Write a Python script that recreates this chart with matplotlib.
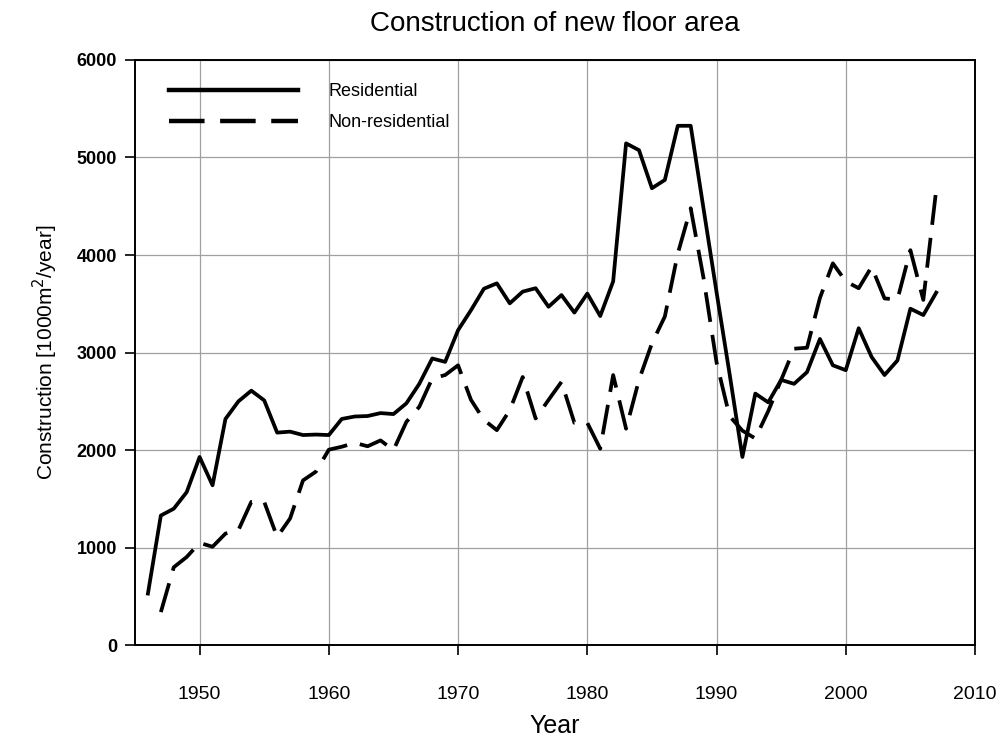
import matplotlib
matplotlib.use("Agg")
import matplotlib.pyplot as plt

# years and values (1000 m2 / year)
years_res = list(range(1946, 2008))
residential = [530, 1330, 1400, 1570, 1930, 1640, 2320, 2500, 2610, 2510,
               2180, 2190, 2155, 2160, 2155, 2320, 2345, 2350, 2380, 2370,
               2480, 2680, 2940, 2905, 3230, 3435, 3655, 3710, 3505, 3625,
               3660, 3470, 3590, 3410, 3605, 3375, 3730, 5145, 5075, 4685,
               4770, 5325, 5325, 4470, 3620, 2790, 1930, 2580, 2490, 2720,
               2680, 2800, 3140, 2870, 2820, 3250, 2955, 2770, 2920, 3450,
               3385, 3615]

years_non = list(range(1947, 2008))
non_residential = [340, 800, 905, 1050, 1010, 1145, 1180, 1470, 1470, 1110,
                   1300, 1690, 1780, 2005, 2035, 2075, 2040, 2100, 2000, 2290,
                   2445, 2735, 2770, 2870, 2515, 2310, 2205, 2410, 2750, 2325,
                   2515, 2700, 2280, 2280, 2015, 2770, 2220, 2720, 3095, 3370,
                   4015, 4480, 3760, 2900, 2350, 2200, 2120, 2400, 2720, 3040,
                   3050, 3560, 3915, 3730, 3660, 3880, 3555, 3545, 4050, 3540,
                   4670]

xticks = [1950, 1960, 1970, 1980, 1990, 2000, 2010]
yticks = [0, 1000, 2000, 3000, 4000, 5000, 6000]

font = ["Liberation Sans", "DejaVu Sans"]

fig = plt.figure(figsize=(10, 7.4), dpi=100)
ax = fig.add_axes([0.135, 0.128, 0.84, 0.791])

ax.plot(years_res, residential, color="black", lw=2.7, label="Residential")
ax.plot(years_non, non_residential, color="black", lw=2.7, dashes=(8, 3.5),
        label="Non-residential")

ax.set_xlim(1945, 2010)
ax.set_ylim(0, 6000)
ax.set_xticks(xticks)
ax.set_yticks(yticks)
ax.grid(True, color="#a0a0a0", lw=0.9)
ax.set_axisbelow(True)
for s in ax.spines.values():
    s.set_linewidth(1.4)
ax.tick_params(direction="out", length=7, width=1.2)
ax.tick_params(axis="x", pad=22)
ax.tick_params(axis="y", pad=6)

for lab in ax.get_xticklabels():
    lab.set_fontfamily(font)
    lab.set_fontsize(14)
for lab in ax.get_yticklabels():
    lab.set_fontfamily(font)
    lab.set_fontweight("bold")
    lab.set_fontsize(13)

ax.set_xlabel("Year", family=font, fontsize=18, labelpad=8)
ax.set_ylabel("Construction [1000m$^2$/year]", family=font, fontsize=15,
              labelpad=12)
fig.text(0.555, 0.968, "Construction of new floor area", family=font,
         fontsize=20, ha="center", va="center")

leg = ax.legend(loc="upper left", bbox_to_anchor=(0.013, 1.0), frameon=False,
                handlelength=7.1, handletextpad=1.7, borderaxespad=0.9,
                labelspacing=0.75, prop={"family": font, "size": 13})
for h in leg.get_lines():
    h.set_linewidth(3.2)

fig.savefig("out.png", dpi=100)
